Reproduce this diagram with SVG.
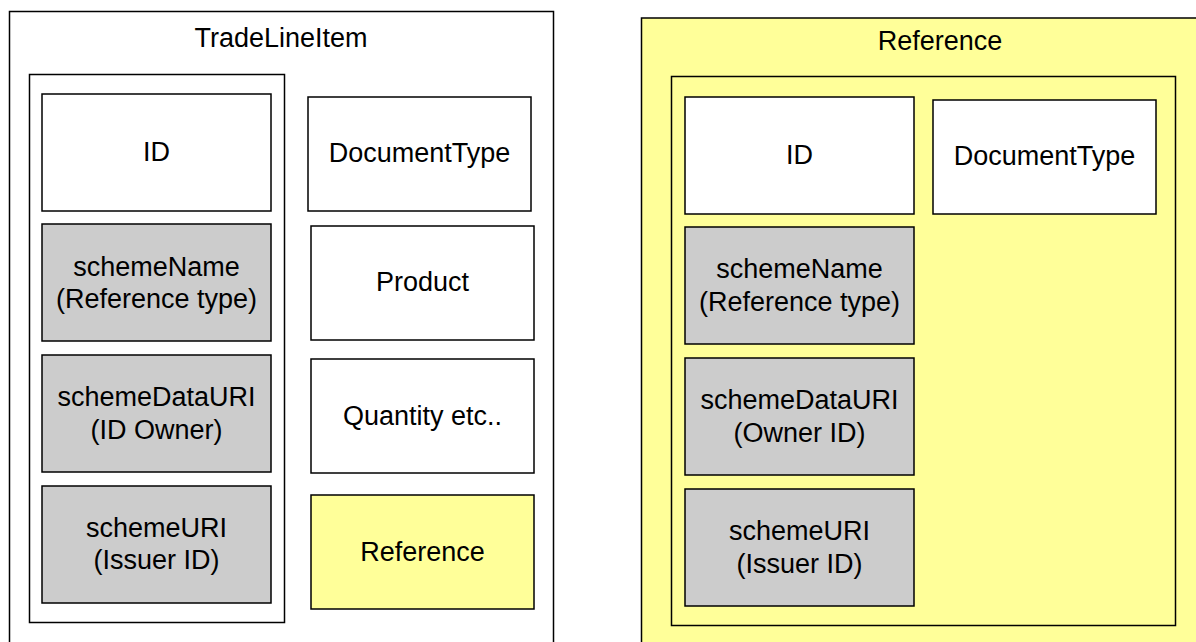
<svg xmlns="http://www.w3.org/2000/svg" width="1196" height="642" viewBox="0 0 1196 642">
<style>
rect{stroke:#000;stroke-width:1.5}
.w{fill:#fff}
.g{fill:#ccc}
.y{fill:#ffff99}
.c{fill:none}
text{font-family:"Liberation Sans",Arial,sans-serif;font-size:27px;fill:#000;text-anchor:middle;dominant-baseline:central}
</style>
<rect width="1196" height="642" fill="#fff" style="stroke:none"/>
<g id="tradelineitem">
<rect class="w" x="9.5" y="11.5" width="544" height="640"/>
<text x="281" y="38">TradeLineItem</text>
</g>
<g id="tli-container"><rect class="c" x="29.5" y="74.5" width="255" height="548"/></g>
<g id="tli-id"><rect class="w" x="42" y="94" width="229" height="117"/><text x="156.5" y="152">ID</text></g>
<g id="tli-schemename"><rect class="g" x="42" y="224" width="229" height="117"/><text x="156.5" y="267">schemeName</text><text x="156.5" y="299">(Reference type)</text></g>
<g id="tli-schemedatauri"><rect class="g" x="42" y="355" width="229" height="117"/><text x="156.5" y="397">schemeDataURI</text><text x="156.5" y="430">(ID Owner)</text></g>
<g id="tli-schemeuri"><rect class="g" x="42" y="486" width="229" height="117"/><text x="156.5" y="528">schemeURI</text><text x="156.5" y="560">(Issuer ID)</text></g>
<g id="tli-documenttype"><rect class="w" x="308" y="97" width="223" height="114"/><text x="419.5" y="153">DocumentType</text></g>
<g id="tli-product"><rect class="w" x="311" y="226" width="223" height="114"/><text x="422.5" y="282">Product</text></g>
<g id="tli-quantity"><rect class="w" x="311" y="359" width="223" height="114"/><text x="422.5" y="416">Quantity etc..</text></g>
<g id="tli-reference"><rect class="y" x="311" y="495" width="223" height="114"/><text x="422.5" y="552">Reference</text></g>

<g id="reference">
<rect class="y" x="641.5" y="18" width="570" height="640"/>
<text x="940" y="41">Reference</text>
</g>
<g id="ref-container"><rect class="c" x="671.5" y="76.5" width="504" height="549"/></g>
<g id="ref-id"><rect class="w" x="685" y="97" width="229" height="117"/><text x="799.5" y="155">ID</text></g>
<g id="ref-documenttype"><rect class="w" x="933" y="100" width="223" height="114"/><text x="1044.5" y="156">DocumentType</text></g>
<g id="ref-schemename"><rect class="g" x="685" y="227" width="229" height="117"/><text x="799.5" y="269">schemeName</text><text x="799.5" y="302">(Reference type)</text></g>
<g id="ref-schemedatauri"><rect class="g" x="685" y="358" width="229" height="117"/><text x="799.5" y="400">schemeDataURI</text><text x="799.5" y="433">(Owner ID)</text></g>
<g id="ref-schemeuri"><rect class="g" x="685" y="489" width="229" height="117"/><text x="799.5" y="531">schemeURI</text><text x="799.5" y="564">(Issuer ID)</text></g>
<g id="connectors"></g>
</svg>
